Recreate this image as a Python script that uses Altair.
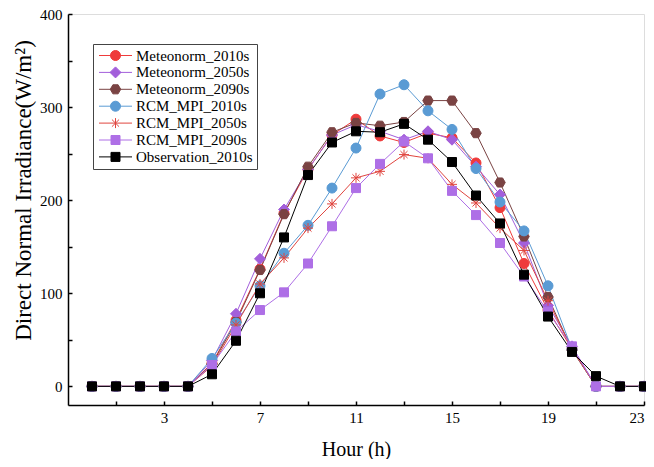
import altair as alt
import pandas as pd

hours = list(range(24))
series_names = ["Meteonorm_2010s", "Meteonorm_2050s", "Meteonorm_2090s",
                "RCM_MPI_2010s", "RCM_MPI_2050s", "RCM_MPI_2090s", "Observation_2010s"]
meteonorm_2010s = [0, 0, 0, 0, 0, 25, 71, 126, 186, 233, 270, 287, 269, 262, 272, 267, 240, 192, 132, 82, 40, 0, 0, 0]
meteonorm_2050s = [0, 0, 0, 0, 0, 28, 78, 137, 190, 233, 270, 281, 274, 265, 274, 265, 236, 206, 154, 87, 43, 0, 0, 0]
meteonorm_2090s = [0, 0, 0, 0, 0, 24, 69, 125, 185, 236, 273, 283, 280, 284, 307, 307, 272, 219, 161, 96, 39, 0, 0, 0]
rcm_mpi_2010s = [0, 0, 0, 0, 0, 30, 68, 108, 143, 173, 213, 256, 314, 324, 296, 276, 234, 198, 167, 108, 40, 0, 0, 0]
rcm_mpi_2050s = [0, 0, 0, 0, 0, 22, 66, 110, 138, 170, 196, 224, 231, 249, 245, 217, 197, 170, 146, 92, 40, 0, 0, 0]
rcm_mpi_2090s = [0, 0, 0, 0, 0, 23, 59, 82, 101, 132, 172, 213, 239, 263, 245, 210, 184, 154, 118, 80, 43, 0, 0, 0]
observation_2010s = [0, 0, 0, 0, 0, 13, 49, 100, 160, 227, 262, 274, 273, 282, 265, 241, 205, 175, 120, 75, 37, 11, 0, 0]

series_values = [meteonorm_2010s, meteonorm_2050s, meteonorm_2090s,
                 rcm_mpi_2010s, rcm_mpi_2050s, rcm_mpi_2090s, observation_2010s]
colors = ["#EF3B3B", "#A35FDB", "#7A4343", "#5A9BD4", "#E0453F", "#AE6FE6", "#000000"]

x_tick_values = list(range(1, 24, 2))
y_tick_values = list(range(0, 401, 50))

# marker paths (unit = half symbol width)
CIRCLE = "M1,0A1,1,0,1,1,-1,0A1,1,0,1,1,1,0Z"
DIAMOND = "M0,-1.1L1.1,0L0,1.1L-1.1,0Z"
HEXAGON = "M1.05,0L0.52,0.91L-0.52,0.91L-1.05,0L-0.52,-0.91L0.52,-0.91Z"
ASTER = "M-1,0L1,0M0,-1L0,1M-0.71,-0.71L0.71,0.71M-0.71,0.71L0.71,-0.71"
ASTER_V = "M0,-1L0,1M-0.71,-0.71L0.71,0.71M-0.71,0.71L0.71,-0.71"
SQUARE = "M-0.9,-0.9L0.9,-0.9L0.9,0.9L-0.9,0.9Z"
LINE = "M-3.3,0L3.3,0"

plot_shapes = [CIRCLE, DIAMOND, HEXAGON, CIRCLE, ASTER, SQUARE, SQUARE]
legend_shapes = [LINE + s for s in [CIRCLE, DIAMOND, HEXAGON, CIRCLE, ASTER_V, SQUARE, SQUARE]]

rows = []
for name, vals in zip(series_names, series_values):
    for h, v in zip(hours, vals):
        rows.append({"series": name, "hour": h, "value": v})
df = pd.DataFrame(rows)

FONT = "Liberation Serif"

x_enc = alt.X("hour:Q",
              scale=alt.Scale(domain=[-1, 23], nice=False, zero=False),
              axis=alt.Axis(values=x_tick_values,
                            labelExpr="((datum.value + 1) % 4 == 0) ? datum.label : ''",
                            title="Hour (h)", titleFontSize=20, titleFont=FONT,
                            titleFontWeight="normal", titleColor="black", titlePadding=14,
                            labelFont=FONT, labelFontSize=15, labelColor="black",
                            labelPadding=9, tickSize=alt.ExprRef(expr="-4"),
                            tickColor="black", tickWidth=1.5, domainColor="black",
                            domainWidth=1.5, grid=False, labelFlush=True))
y_enc = alt.Y("value:Q",
              scale=alt.Scale(domain=[-20, 400], nice=False, zero=False),
              axis=alt.Axis(values=y_tick_values,
                            labelExpr="(datum.value % 100 == 0) ? datum.label : ''",
                            title="Direct Normal Irradiance(W/m²)", titleFontSize=23,
                            titleFont=FONT, titleFontWeight="normal", titleColor="black",
                            titlePadding=4, titleY=176, labelFont=FONT, labelFontSize=15,
                            labelColor="black", labelPadding=10,
                            tickSize=alt.ExprRef(expr="-4"), tickColor="black",
                            tickWidth=1.5, domainColor="black", domainWidth=1.5,
                            grid=False, labelFlush=False))

color_scale = alt.Scale(domain=series_names, range=colors)

lines = alt.Chart(df).mark_line(strokeWidth=1, opacity=1).encode(
    x=x_enc, y=y_enc,
    color=alt.Color("series:N", scale=color_scale, legend=None),
)

points = alt.Chart(df).mark_point(filled=True, size=100, opacity=1, strokeWidth=1).encode(
    x=x_enc, y=y_enc,
    color=alt.Color("series:N", scale=color_scale, legend=None),
    stroke=alt.Stroke("series:N", scale=color_scale, legend=None),
    shape=alt.Shape("series:N", scale=alt.Scale(domain=series_names, range=plot_shapes), legend=None),
)

leg = alt.Legend(title=None, orient="none", legendX=25, legendY=30,
                 symbolSize=100, symbolStrokeWidth=1, symbolOffset=11, labelOffset=13,
                 labelFont=FONT, labelFontSize=15, labelColor="black",
                 rowPadding=0.9, padding=4, strokeColor="#444444", fillColor="white",
                 symbolOpacity=1, labelLimit=0)

legend_layer = alt.Chart(df).transform_filter("datum.hour < -100").mark_point(
    filled=True, size=100, opacity=1, strokeWidth=1).encode(
    x=x_enc, y=y_enc,
    color=alt.Color("series:N", scale=color_scale, legend=leg),
    stroke=alt.Stroke("series:N", scale=color_scale, legend=leg),
    shape=alt.Shape("series:N", scale=alt.Scale(domain=series_names, range=legend_shapes), legend=leg),
)

chart = alt.layer(lines, points, legend_layer).resolve_scale(
    color="independent", stroke="independent", shape="independent"
).properties(
    width=576, height=391,
    autosize=alt.AutoSizeParams(type="none"),
    padding={"left": 60, "top": 6, "right": 2, "bottom": 54},
    background="white",
).configure_view(stroke="black", strokeWidth=1.5).configure(font=FONT)

chart.save("out.html", embed_options={"renderer": "svg", "actions": False})
